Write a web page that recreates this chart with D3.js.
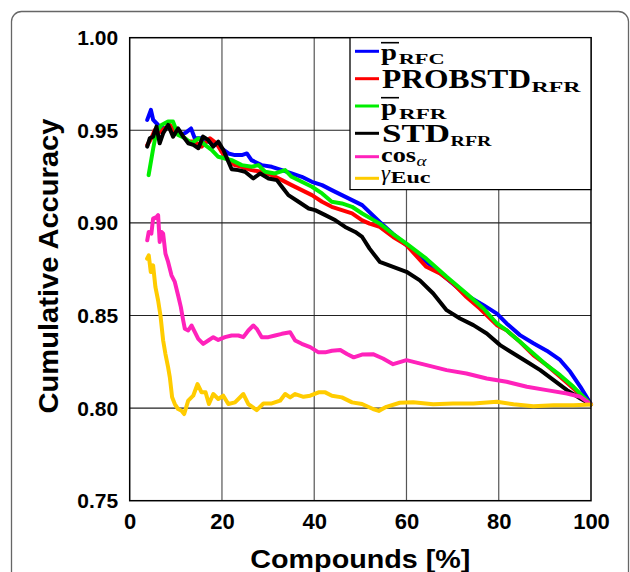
<!DOCTYPE html>
<html>
<head>
<meta charset="utf-8">
<script src="https://cdn.jsdelivr.net/npm/d3@7/dist/d3.min.js"></script>
<style>
	body { margin: 0; background: #fff; }
	svg { display: block; }
	.tick-label { font-family: "Liberation Sans", Arial, sans-serif; font-weight: bold; fill: #000; }
	.leg { font-family: "Liberation Serif", "Times New Roman", serif; fill: #000; }
</style>
</head>
<body>
<svg id="chart" width="630" height="572"></svg>
<script>

// values: [compounds %, cumulative accuracy]
var pRFC = [[3.8,0.9556],[4.6,0.961],[5.1,0.9556],[5.8,0.9538],[6.5,0.952],[7.6,0.951],[8.7,0.952],[9.8,0.9493],[11.2,0.9475],[12.3,0.949],[13.3,0.951],[14.1,0.9457],[15.6,0.9457],[17.0,0.9439],[18.5,0.943],[19.9,0.9403],[21.4,0.9375],[22.8,0.9366],[24.3,0.9366],[25.4,0.9375],[26.4,0.9339],[28.6,0.9312],[30.8,0.9303],[33.0,0.9285],[35.1,0.9267],[37.3,0.9249],[39.5,0.9222],[41.7,0.9204],[43.8,0.9177],[46.0,0.915],[48.2,0.9123],[50.4,0.9096],[54.2,0.9005],[57.1,0.894],[60,0.888],[64.3,0.879],[68.7,0.870],[73.0,0.861],[76.7,0.8556],[79.6,0.851],[81.7,0.8457],[84.6,0.8394],[87.5,0.835],[90.4,0.831],[93.3,0.826],[95.5,0.8196],[97.7,0.8115],[100,0.802]];

var probstdRFR = [[3.8,0.942],[4.7,0.9457],[5.4,0.950],[6.5,0.949],[7.6,0.951],[8.7,0.9529],[9.8,0.9493],[11.2,0.9475],[12.7,0.9439],[14.1,0.9439],[15.6,0.9412],[17.4,0.9457],[18.8,0.943],[19.9,0.9384],[21.4,0.9339],[22.8,0.9312],[24.3,0.9303],[26.4,0.9285],[28.6,0.9276],[30.8,0.9258],[33.0,0.9231],[35.1,0.9204],[37.3,0.9177],[39.5,0.915],[41.7,0.9114],[43.8,0.9087],[46.0,0.9069],[48.2,0.9051],[50.4,0.9014],[52.0,0.8996],[54.2,0.8978],[57.1,0.8924],[60,0.888],[64.3,0.8763],[67.25,0.8727],[70.1,0.8673],[73.0,0.860],[75.9,0.8538],[79.6,0.8448],[81.7,0.842],[84.6,0.8358],[87.5,0.8286],[90.4,0.8232],[93.3,0.817],[96.2,0.8106],[100,0.802]];

var pRFR = [[4.1,0.9258],[5.1,0.9403],[5.8,0.9493],[6.9,0.9529],[8.3,0.9547],[9.4,0.9547],[10.5,0.9475],[12.0,0.9457],[13.4,0.943],[14.9,0.9457],[16.3,0.9421],[17.75,0.9394],[19.2,0.9357],[20.65,0.9348],[22.1,0.9339],[24.3,0.9312],[26.45,0.9303],[27.9,0.9312],[29.35,0.9276],[31.5,0.9267],[33.7,0.9285],[35.1,0.9249],[37.3,0.9222],[39.5,0.9195],[41.7,0.9159],[43.8,0.9114],[46.0,0.9105],[48.2,0.9087],[50.4,0.9051],[54.2,0.8996],[57.1,0.894],[60,0.8888],[64.3,0.8807],[68.7,0.8709],[73.0,0.8619],[76.7,0.8538],[79.6,0.8457],[81.7,0.842],[84.6,0.8358],[87.5,0.8295],[90.4,0.8232],[93.3,0.8178],[96.2,0.8115],[100,0.802]];

var stdRFR = [[3.8,0.9412],[4.35,0.9457],[5.07,0.9466],[5.8,0.952],[6.5,0.943],[7.25,0.9484],[8.33,0.9529],[9.4,0.9466],[10.5,0.951],[11.6,0.9466],[12.7,0.943],[13.8,0.9421],[14.9,0.9403],[15.9,0.9466],[17.0,0.9448],[18.1,0.9412],[19.2,0.9439],[20.3,0.9394],[21.4,0.933],[22.1,0.929],[23.55,0.9285],[25.0,0.9276],[26.8,0.924],[28.3,0.9267],[30.1,0.924],[31.9,0.9231],[33.0,0.9195],[34.4,0.915],[36.6,0.9114],[38.8,0.9078],[40.2,0.9069],[42.4,0.9042],[44.6,0.9014],[46.7,0.8978],[48.9,0.8951],[50.4,0.8924],[52.0,0.8861],[54.2,0.879],[57.1,0.8763],[60,0.8736],[62.9,0.869],[65.8,0.8619],[68.7,0.8529],[71.6,0.8484],[74.5,0.8448],[77.4,0.8403],[80.3,0.834],[83.2,0.8295],[86.1,0.825],[89.0,0.8205],[91.9,0.8151],[94.8,0.8097],[97.7,0.8052],[100,0.802]];

var cosAlpha = [[3.8,0.8906],[4.13,0.8951],[4.7,0.8942],[5.07,0.9023],[5.8,0.9032],[6.16,0.9042],[6.5,0.8897],[6.9,0.8951],[7.25,0.8942],[7.75,0.8834],[8.33,0.8789],[9.06,0.8717],[9.78,0.8681],[10.5,0.8608],[11.09,0.8545],[11.6,0.8473],[11.96,0.8428],[12.68,0.8419],[13.4,0.8446],[14.13,0.841],[14.86,0.8374],[15.94,0.8347],[17.03,0.8365],[18.12,0.8383],[19.2,0.8368],[20.65,0.8383],[22.1,0.8392],[23.55,0.8392],[24.64,0.8383],[25.72,0.8419],[26.8,0.8446],[27.54,0.8428],[28.62,0.8383],[30.07,0.8383],[31.52,0.8392],[32.97,0.8401],[34.78,0.841],[35.87,0.8365],[37.3,0.8347],[39.13,0.8329],[40.94,0.8301],[42.39,0.8301],[43.84,0.831],[45.65,0.8314],[47.1,0.8292],[48.55,0.8274],[50.36,0.8289],[52.75,0.8291],[54.9,0.8268],[57.1,0.8237],[60,0.8259],[64.35,0.8232],[68.7,0.8205],[73.0,0.8187],[77.4,0.816],[81.7,0.8142],[86.1,0.8115],[90.4,0.8097],[94.8,0.8079],[97.7,0.8061],[100,0.802]];

var gammaEuc = [[3.77,0.8807],[4.13,0.8825],[4.57,0.8735],[5.07,0.8771],[5.58,0.8653],[6.16,0.8581],[6.67,0.85],[7.25,0.8365],[7.75,0.8292],[8.33,0.822],[8.7,0.8166],[9.2,0.8058],[9.78,0.8022],[10.5,0.7995],[11.23,0.7986],[11.81,0.7968],[12.68,0.804],[13.77,0.8067],[14.71,0.813],[15.58,0.8085],[16.45,0.8085],[17.17,0.8022],[18.12,0.8076],[19.2,0.8049],[20.29,0.8067],[21.38,0.8022],[22.83,0.8031],[24.64,0.8076],[25.72,0.8022],[27.54,0.7989],[28.99,0.8025],[30.8,0.8025],[32.6,0.804],[33.7,0.8076],[34.78,0.8058],[35.87,0.8076],[37.68,0.8061],[39.13,0.8067],[40.94,0.8085],[42.39,0.8085],[43.84,0.8067],[46.0,0.8058],[48.2,0.8031],[50.36,0.8022],[52.75,0.7995],[54.0,0.7985],[55.65,0.8007],[58.55,0.8029],[61.45,0.8032],[65.8,0.8021],[70.1,0.8025],[74.5,0.8025],[79.6,0.8034],[83.2,0.8021],[87.5,0.801],[91.9,0.8016],[96.2,0.8016],[100,0.802]];

var seriesData = [pRFC, probstdRFR, pRFR, stdRFR, cosAlpha, gammaEuc];
var seriesColors = ["#0000ff", "#ff0000", "#00ee00", "#000000", "#ff22bb", "#ffcc00"];

var xTicks = [0, 20, 40, 60, 80, 100];
var yTicks = [0.75, 0.80, 0.85, 0.90, 0.95, 1.00];
var xTitle = "Compounds [%]";
var yTitle = "Cumulative Accuracy";

var svg = d3.select('#chart');

// outer figure frame
svg.append('rect')
	.attr('x', 11.5).attr('y', 11.5)
	.attr('width', 617).attr('height', 620)
	.attr('rx', 10).attr('ry', 10)
	.attr('fill', 'none')
	.attr('stroke', '#666')
	.attr('stroke-width', 1.3);

var plotL = 129.7, plotR = 591, plotT = 37.7, plotB = 500.7;

var x = d3.scaleLinear().domain([0, 100]).range([plotL, plotR]);
var y = d3.scaleLinear().domain([0.75, 1.0]).range([plotB, plotT]);

// grid
svg.append('g')
	.selectAll('line')
	.data(xTicks.slice(1, -1))
	.enter().append('line')
	.attr('x1', function(d){ return x(d); })
	.attr('x2', function(d){ return x(d); })
	.attr('y1', plotT).attr('y2', plotB)
	.attr('stroke', '#555').attr('stroke-width', 1.2);

svg.append('g')
	.selectAll('line')
	.data(yTicks.slice(1, -1))
	.enter().append('line')
	.attr('x1', plotL).attr('x2', plotR)
	.attr('y1', function(d){ return y(d); })
	.attr('y2', function(d){ return y(d); })
	.attr('stroke', '#222').attr('stroke-width', 1.1);

// axes (labels only, frame drawn separately)
var xAxis = svg.append('g')
	.attr('transform', 'translate(0,' + plotB + ')')
	.call(d3.axisBottom(x).tickValues(xTicks).tickSize(0).tickPadding(0).tickFormat(d3.format('d')));
xAxis.select('.domain').remove();
xAxis.selectAll('text')
	.attr('class', 'tick-label')
	.attr('dy', null)
	.attr('y', 28)
	.style('font-size', '22px');

var yAxis = svg.append('g')
	.attr('transform', 'translate(' + plotL + ',0)')
	.call(d3.axisLeft(y).tickValues(yTicks).tickSize(0).tickPadding(0).tickFormat(d3.format('.2f')));
yAxis.select('.domain').remove();
yAxis.selectAll('text')
	.attr('class', 'tick-label')
	.attr('dy', null)
	.attr('x', -11.5)
	.attr('y', 7)
	.style('font-size', '21px');

// series
var line = d3.line()
	.x(function(d){ return x(d[0]); })
	.y(function(d){ return y(d[1]); });

svg.append('g')
	.selectAll('path')
	.data(seriesData)
	.enter().append('path')
	.attr('d', line)
	.attr('fill', 'none')
	.attr('stroke', function(d, i){ return seriesColors[i]; })
	.attr('stroke-width', 4)
	.attr('stroke-linejoin', 'round')
	.attr('stroke-linecap', 'round');

// plot frame
svg.append('rect')
	.attr('x', plotL).attr('y', plotT)
	.attr('width', plotR - plotL).attr('height', plotB - plotT)
	.attr('fill', 'none')
	.attr('stroke', '#000')
	.attr('stroke-width', 1.5);

// axis titles
svg.append('text')
	.attr('class', 'tick-label')
	.attr('x', (plotL + plotR) / 2).attr('y', 568)
	.attr('text-anchor', 'middle')
	.attr('textLength', 220).attr('lengthAdjust', 'spacingAndGlyphs')
	.style('font-size', '25px')
	.text(xTitle);

svg.append('text')
	.attr('class', 'tick-label')
	.attr('transform', 'translate(57.5,' + 266 + ') rotate(-90)')
	.attr('text-anchor', 'middle')
	.attr('textLength', 295).attr('lengthAdjust', 'spacingAndGlyphs')
	.style('font-size', '27px')
	.text(yTitle);

// legend box drawn as a path so the outline is explicit
var legendL = 350, legendB = 189.7;

var legend = svg.append('g');
legend.append('path')
	.attr('d', 'M' + legendL + ',' + plotT + 'H' + plotR + 'V' + legendB + 'H' + legendL + 'Z')
	.attr('fill', '#ffffff')
	.attr('stroke', '#000').attr('stroke-width', 1.3);

var legendLineY = [51.3, 78.7, 106, 133.3, 156.7, 178.3];

legend.selectAll('line.key')
	.data(seriesColors)
	.enter().append('line')
	.attr('class', 'key')
	.attr('x1', 355).attr('x2', 379)
	.attr('y1', function(d, i){ return legendLineY[i]; })
	.attr('y2', function(d, i){ return legendLineY[i]; })
	.attr('stroke', function(d){ return d; })
	.attr('stroke-width', 3);

// label pieces: text, x, baseline, size, width, weight, style
var legendParts = [
	["p", 381, 59.5, 23, 16, "bold", "normal"],
	["RFC", 398.7, 64.3, 15.5, 46, "bold", "normal"],
	["PROBSTD", 382, 87.7, 27, 149, "bold", "normal"],
	["RFR", 531.5, 92, 15, 49, "bold", "normal"],
	["p", 381, 114.5, 23, 16, "bold", "normal"],
	["RFR", 399, 118.7, 15.5, 47.5, "bold", "normal"],
	["STD", 382, 142.3, 26, 68, "bold", "normal"],
	["RFR", 450.5, 145.5, 15, 41, "bold", "normal"],
	["cos", 381, 162, 21, 35, "bold", "normal"],
	["\u03b1", 416.5, 165.5, 15, 10, "normal", "italic"],
	["\u03b3", 381, 179.5, 20, 9, "normal", "italic"],
	["Euc", 390.5, 183.4, 16, 40, "bold", "normal"]
];

legend.selectAll('text')
	.data(legendParts)
	.enter().append('text')
	.attr('class', 'leg')
	.attr('x', function(d){ return d[1]; })
	.attr('y', function(d){ return d[2]; })
	.attr('textLength', function(d){ return d[4]; })
	.attr('lengthAdjust', 'spacingAndGlyphs')
	.style('font-size', function(d){ return d[3] + 'px'; })
	.style('font-weight', function(d){ return d[5]; })
	.style('font-style', function(d){ return d[6]; })
	.text(function(d){ return d[0]; });

// overbars on the two p labels
legend.selectAll('line.bar')
	.data([42.7, 97.7])
	.enter().append('line')
	.attr('class', 'bar')
	.attr('x1', 381).attr('x2', 399)
	.attr('y1', function(d){ return d; })
	.attr('y2', function(d){ return d; })
	.attr('stroke', '#000').attr('stroke-width', 1.6);

</script>
</body>
</html>
